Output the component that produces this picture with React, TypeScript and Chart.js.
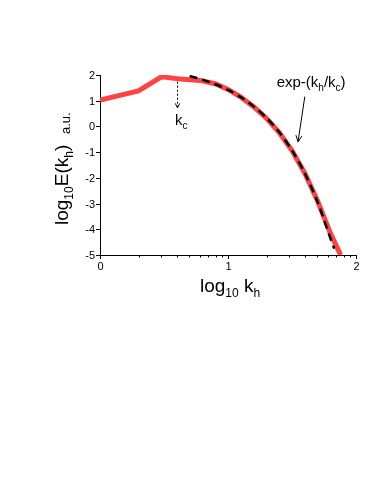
import React, { useEffect, useRef } from "react";
import { Chart, registerables } from "chart.js";

Chart.register(...registerables);

// Measured spectrum (log10 k_h, log10 E)
const xRed = [0, 0.30, 0.48, 0.63, 0.78, 0.9, 1.0, 1.1, 1.2, 1.3, 1.4, 1.5, 1.6, 1.7, 1.8, 1.88];
const yRed = [1.03, 1.38, 1.93, 1.84, 1.79, 1.66, 1.44, 1.14, 0.77, 0.32, -0.24, -0.94, -1.82, -2.9, -4.15, -5.0];
// Fit exp-(k_h/k_c)
const xFit = [0.70, 0.8, 0.9, 1.0, 1.1, 1.2, 1.3, 1.4, 1.5, 1.6, 1.7, 1.8, 1.83];
const yFit = [1.96, 1.82, 1.64, 1.42, 1.14, 0.78, 0.34, -0.22, -0.93, -1.82, -2.94, -4.35, -4.75];

const xMajorTicks = [0, 1, 2];
const xTickLabels = ["0", "1", "2"];
const xMinorTicks = [0.301, 0.477, 0.602, 0.699, 0.778, 0.845, 0.903, 0.954,
  1.301, 1.477, 1.602, 1.699, 1.778, 1.845, 1.903, 1.954];
const yTicks = [2, 1, 0, -1, -2, -3, -4, -5];
const yTickLabels = ["2", "1", "0", "-1", "-2", "-3", "-4", "-5"];

const FONT = "'Liberation Sans', Arial, Helvetica, sans-serif";

function drawRich(ctx: CanvasRenderingContext2D, parts: [string, boolean][], x: number, y: number, size: number, subSize: number, subDy: number) {
  let cx = x;
  for (const [t, sub] of parts) {
    ctx.font = `${sub ? subSize : size}px ${FONT}`;
    ctx.fillText(t, cx, sub ? y + subDy : y);
    cx += ctx.measureText(t).width;
  }
}

function arrowHead(ctx: CanvasRenderingContext2D, x1: number, y1: number, x2: number, y2: number, len: number) {
  const a = Math.atan2(y2 - y1, x2 - x1);
  ctx.beginPath();
  ctx.moveTo(x2 - len * Math.cos(a - 0.45), y2 - len * Math.sin(a - 0.45));
  ctx.lineTo(x2, y2);
  ctx.lineTo(x2 - len * Math.cos(a + 0.45), y2 - len * Math.sin(a + 0.45));
  ctx.stroke();
}

const decor = {
  id: "decor",
  afterDraw(chart: any) {
    const ctx: CanvasRenderingContext2D = chart.ctx;
    const xs = chart.scales.x;
    const ys = chart.scales.y;
    const area = chart.chartArea;
    ctx.save();
    ctx.strokeStyle = "#000";
    ctx.fillStyle = "#000";
    ctx.lineWidth = 1;
    // y ticks
    ctx.font = `11px ${FONT}`;
    ctx.textAlign = "right";
    ctx.textBaseline = "middle";
    yTicks.forEach((v, i) => {
      const py = Math.round(ys.getPixelForValue(v)) + 0.5;
      ctx.beginPath();
      ctx.moveTo(area.left - 4, py);
      ctx.lineTo(area.left, py);
      ctx.stroke();
      ctx.fillText(yTickLabels[i], area.left - 5, py);
    });
    // x ticks
    ctx.textAlign = "center";
    ctx.textBaseline = "top";
    xMajorTicks.forEach((v, i) => {
      const px = Math.round(xs.getPixelForValue(v)) + 0.5;
      ctx.beginPath();
      ctx.moveTo(px, area.bottom);
      ctx.lineTo(px, area.bottom + 4);
      ctx.stroke();
      ctx.fillText(xTickLabels[i], px, area.bottom + 6);
    });
    xMinorTicks.forEach((v) => {
      const px = Math.round(xs.getPixelForValue(v)) + 0.5;
      ctx.beginPath();
      ctx.moveTo(px, area.bottom);
      ctx.lineTo(px, area.bottom + 2.5);
      ctx.stroke();
    });
    // x title
    ctx.textAlign = "left";
    ctx.textBaseline = "alphabetic";
    drawRich(ctx, [["log", false], ["10", true], [" k", false], ["h", true]], 200, 292, 19, 12, 5);
    // y title (rotated)
    ctx.save();
    ctx.translate(68, 225);
    ctx.rotate(-Math.PI / 2);
    drawRich(ctx, [["log", false], ["10", true], ["E(k", false], ["h", true], [")", false]], 0, 0, 19, 12, 5);
    ctx.restore();
    ctx.save();
    ctx.translate(70, 134);
    ctx.rotate(-Math.PI / 2);
    ctx.font = `13px ${FONT}`;
    ctx.fillText("a.u.", 0, 0);
    ctx.restore();
    // k_c dotted arrow
    const kx = Math.round(xs.getPixelForValue(0.6)) + 0.5;
    const ky1 = ys.getPixelForValue(1.74);
    const ky2 = ys.getPixelForValue(0.72);
    ctx.setLineDash([2, 2]);
    ctx.beginPath();
    ctx.moveTo(kx, ky1);
    ctx.lineTo(kx, ky2);
    ctx.stroke();
    ctx.setLineDash([]);
    arrowHead(ctx, kx, ky1, kx, ky2, 5);
    drawRich(ctx, [["k", false], ["c", true]], xs.getPixelForValue(0.585), ys.getPixelForValue(0.06), 15, 10, 4);
    // exp label + arrow
    drawRich(ctx, [["exp-(k", false], ["h", true], ["/k", false], ["c", true], [")", false]], xs.getPixelForValue(1.38), ys.getPixelForValue(1.54), 15, 10, 4);
    const ax1 = xs.getPixelForValue(1.60), ay1 = ys.getPixelForValue(1.16);
    const ax2 = xs.getPixelForValue(1.547), ay2 = ys.getPixelForValue(-0.6);
    ctx.beginPath();
    ctx.moveTo(ax1, ay1);
    ctx.lineTo(ax2, ay2);
    ctx.stroke();
    arrowHead(ctx, ax1, ay1, ax2, ay2, 7);
    ctx.restore();
  },
};

export default function App() {
  const ref = useRef<HTMLCanvasElement>(null);
  useEffect(() => {
    if (!ref.current) return;
    const chart = new Chart(ref.current, {
      type: "line",
      data: {
        datasets: [
          {
            data: xFit.map((x, i) => ({ x, y: yFit[i] })),
            borderColor: "#000",
            borderWidth: 2.5,
            borderDash: [8, 5],
            pointRadius: 0,
            tension: 0.3,
            fill: false,
          },
          {
            data: xRed.map((x, i) => ({ x, y: yRed[i] })),
            borderColor: "#ff4343",
            borderWidth: 5,
            pointRadius: 0,
            tension: 0,
            fill: false,
          },
        ],
      },
      options: {
        responsive: false,
        animation: false,
        layout: { padding: { left: 100, top: 75, right: 18, bottom: 233 } },
        plugins: { legend: { display: false }, tooltip: { enabled: false } },
        scales: {
          x: {
            type: "linear",
            min: 0,
            max: 2,
            ticks: { display: false },
            grid: { display: false, drawTicks: false },
            border: { display: true, color: "#000", width: 1 },
          },
          y: {
            type: "linear",
            min: -5,
            max: 2,
            ticks: { display: false },
            grid: { display: false, drawTicks: false },
            border: { display: true, color: "#000", width: 1 },
          },
        },
      },
      plugins: [decor],
    });
    return () => chart.destroy();
  }, []);
  return (
    <div style={{ position: "absolute", left: 0, top: 0, width: 374, height: 488, background: "#fff" }}>
      <canvas ref={ref} width={374} height={488} style={{ display: "block" }} />
    </div>
  );
}
